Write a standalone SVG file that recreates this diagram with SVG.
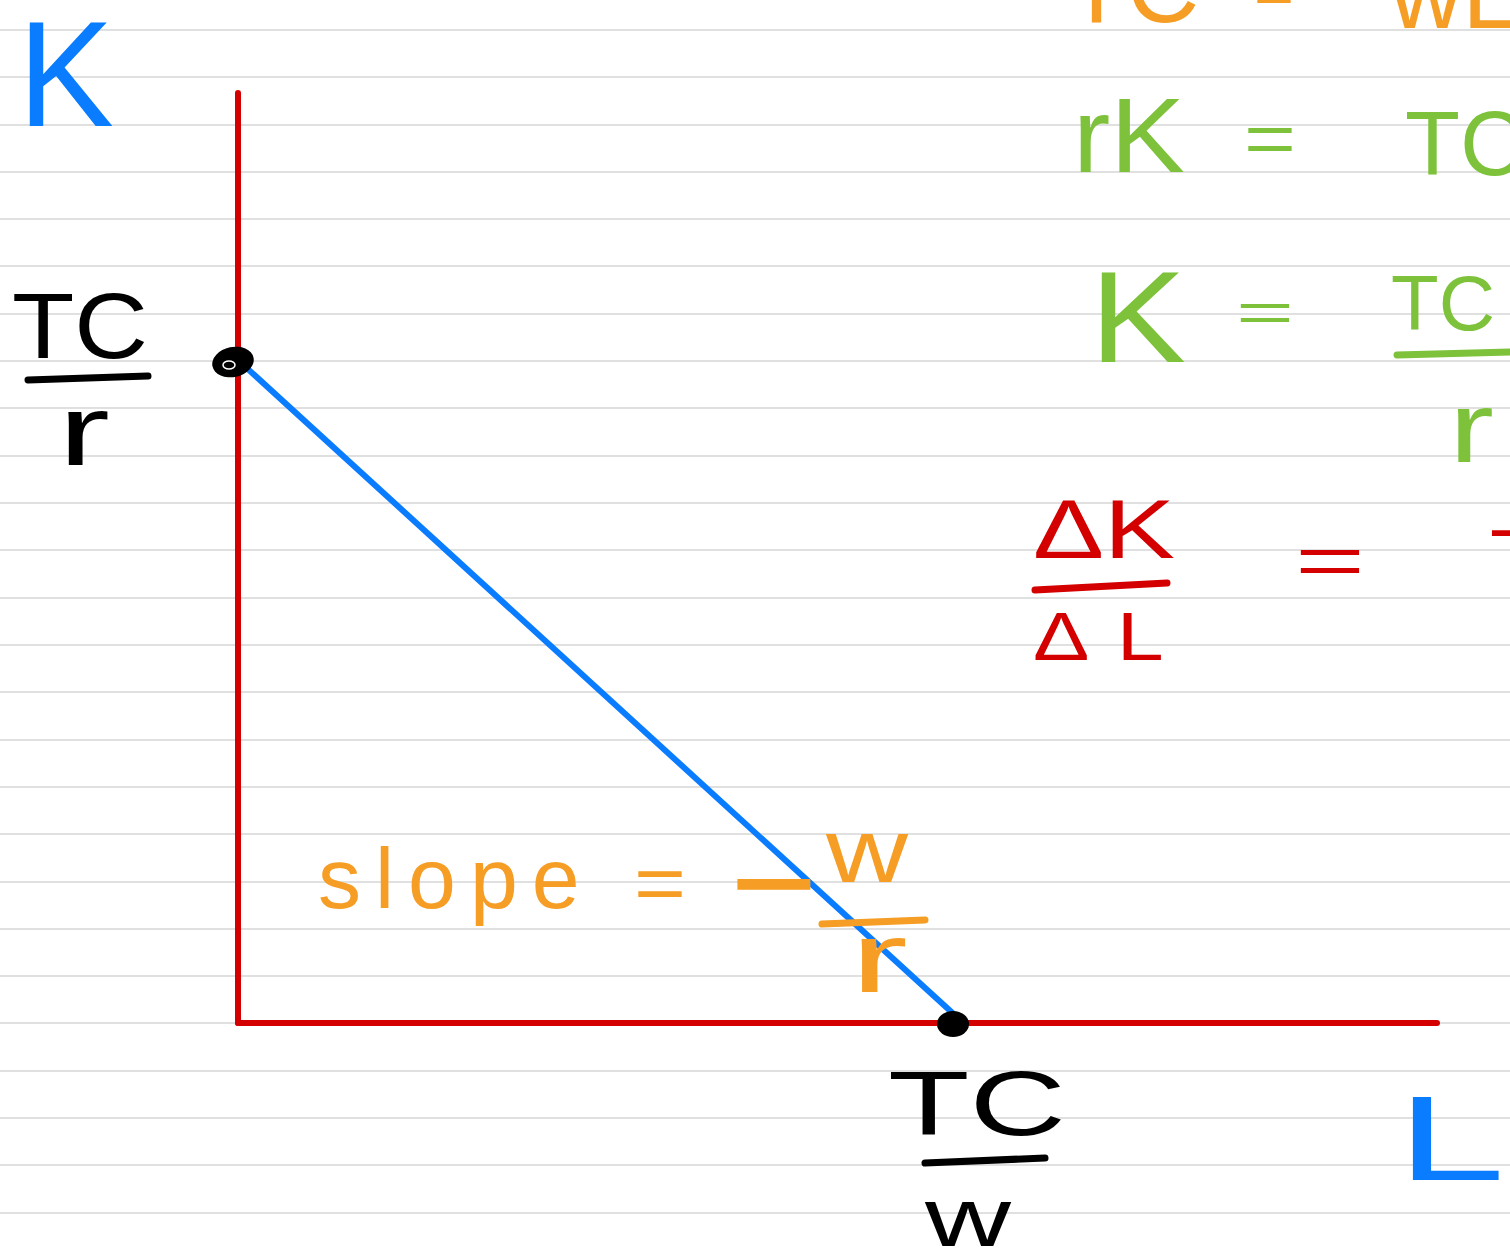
<svg xmlns="http://www.w3.org/2000/svg" width="1510" height="1253" viewBox="0 0 1510 1253">
<style>
.rule{stroke:#d6d6d6;stroke-width:1.5}
text{font-family:"Liberation Sans",Arial,sans-serif}
.blk{fill:#000}
.blu{fill:#0a7cff}
.grn{fill:#7dc23a}
.red{fill:#d40000}
.org{fill:#f59d25}
.bar{stroke-width:7;stroke-linecap:round;fill:none}
</style>
<rect width="1510" height="1253" fill="#fff"/>
<g id="paper-lines">
<line class="rule" x1="0" y1="30" x2="1510" y2="30"/>
<line class="rule" x1="0" y1="77" x2="1510" y2="77"/>
<line class="rule" x1="0" y1="125" x2="1510" y2="125"/>
<line class="rule" x1="0" y1="172" x2="1510" y2="172"/>
<line class="rule" x1="0" y1="219" x2="1510" y2="219"/>
<line class="rule" x1="0" y1="266" x2="1510" y2="266"/>
<line class="rule" x1="0" y1="314" x2="1510" y2="314"/>
<line class="rule" x1="0" y1="361" x2="1510" y2="361"/>
<line class="rule" x1="0" y1="408" x2="1510" y2="408"/>
<line class="rule" x1="0" y1="456" x2="1510" y2="456"/>
<line class="rule" x1="0" y1="503" x2="1510" y2="503"/>
<line class="rule" x1="0" y1="550" x2="1510" y2="550"/>
<line class="rule" x1="0" y1="598" x2="1510" y2="598"/>
<line class="rule" x1="0" y1="645" x2="1510" y2="645"/>
<line class="rule" x1="0" y1="692" x2="1510" y2="692"/>
<line class="rule" x1="0" y1="740" x2="1510" y2="740"/>
<line class="rule" x1="0" y1="787" x2="1510" y2="787"/>
<line class="rule" x1="0" y1="834" x2="1510" y2="834"/>
<line class="rule" x1="0" y1="882" x2="1510" y2="882"/>
<line class="rule" x1="0" y1="929" x2="1510" y2="929"/>
<line class="rule" x1="0" y1="976" x2="1510" y2="976"/>
<line class="rule" x1="0" y1="1023" x2="1510" y2="1023"/>
<line class="rule" x1="0" y1="1071" x2="1510" y2="1071"/>
<line class="rule" x1="0" y1="1118" x2="1510" y2="1118"/>
<line class="rule" x1="0" y1="1165" x2="1510" y2="1165"/>
<line class="rule" x1="0" y1="1213" x2="1510" y2="1213"/>
</g>
<g id="axes">
<line x1="238" y1="93" x2="238" y2="1023" stroke="#d40000" stroke-width="6" stroke-linecap="round"/>
<line x1="238" y1="1023" x2="1437" y2="1023" stroke="#d40000" stroke-width="6" stroke-linecap="round"/>
</g>
<g id="connectors">
<line id="budget-line" x1="238" y1="360" x2="958" y2="1018" stroke="#0a7cff" stroke-width="6" stroke-linecap="round"/>
</g>
<g id="point-k">
<ellipse cx="233" cy="362" rx="21" ry="15" fill="#000" transform="rotate(-12 233 362)"/>
<ellipse cx="229" cy="365" rx="6" ry="4" fill="none" stroke="#fff" stroke-width="1.5"/>
</g>
<g id="point-l">
<ellipse cx="953" cy="1024" rx="16" ry="13" fill="#000"/>
</g>
<g id="label-k-axis"><text class="blu" x="18" y="126" font-size="150" textLength="96" lengthAdjust="spacingAndGlyphs">K</text></g>
<g id="label-l-axis"><text class="blu" x="1397" y="1180" font-size="120" textLength="108" lengthAdjust="spacingAndGlyphs">L</text></g>
<g id="label-tc-r">
<text class="blk" x="12" y="358" font-size="92" textLength="136" lengthAdjust="spacingAndGlyphs">TC</text>
<line class="bar" stroke="#000" x1="28" y1="380" x2="148" y2="376"/>
<text class="blk" x="58" y="465" font-size="100" textLength="52" lengthAdjust="spacingAndGlyphs">r</text>
</g>
<g id="label-tc-w">
<text class="blk" x="888" y="1135" font-size="90" textLength="178" lengthAdjust="spacingAndGlyphs">TC</text>
<line class="bar" stroke="#000" x1="925" y1="1163" x2="1045" y2="1158"/>
<text class="blk" x="925" y="1246" font-size="84" textLength="86" lengthAdjust="spacingAndGlyphs">w</text>
</g>
<g id="label-slope">
<text class="org" x="318" y="908" font-size="86" letter-spacing="14">slope</text>
<text class="org" x="634" y="910" font-size="80" textLength="52" lengthAdjust="spacingAndGlyphs">=</text>
<text class="org" x="774" y="934" font-size="150" text-anchor="middle">−</text>
<text class="org" x="826" y="882" font-size="90" textLength="82" lengthAdjust="spacingAndGlyphs">w</text>
<line class="bar" stroke="#f59d25" x1="822" y1="924" x2="925" y2="920"/>
<text class="org" x="850" y="992" font-size="100" textLength="58" lengthAdjust="spacingAndGlyphs">r</text>
</g>
<g id="eq-tc">
<text class="org" x="1066" y="22" font-size="100">TC</text>
<text class="org" x="1254" y="15" font-size="70" textLength="40" lengthAdjust="spacingAndGlyphs">=</text>
<text class="org" x="1390" y="28" font-size="100">wL</text>
</g>
<g id="eq-rk">
<text class="grn" x="1073" y="172" font-size="105" textLength="112" lengthAdjust="spacingAndGlyphs">rK</text>
<text class="grn" x="1244" y="163" font-size="70" textLength="52" lengthAdjust="spacingAndGlyphs">=</text>
<text class="grn" x="1405" y="175" font-size="90">TC</text>
</g>
<g id="eq-k">
<text class="grn" x="1090" y="362" font-size="130" textLength="96" lengthAdjust="spacingAndGlyphs">K</text>
<text class="grn" x="1236" y="331" font-size="56" textLength="58" lengthAdjust="spacingAndGlyphs">=</text>
<text class="grn" x="1391" y="330" font-size="78">TC</text>
<line class="bar" stroke="#7dc23a" x1="1397" y1="355" x2="1512" y2="352"/>
<text class="grn" x="1449" y="462" font-size="100" textLength="45" lengthAdjust="spacingAndGlyphs">r</text>
</g>
<g id="eq-slope">
<text class="red" x="1033" y="558" font-size="84" textLength="142" lengthAdjust="spacingAndGlyphs">ΔK</text>
<line class="bar" stroke="#d40000" x1="1035" y1="590" x2="1167" y2="583"/>
<text class="red" x="1033" y="660" font-size="68" letter-spacing="22" textLength="158" lengthAdjust="spacingAndGlyphs">ΔL</text>
<text class="red" x="1295" y="585" font-size="70" textLength="70" lengthAdjust="spacingAndGlyphs">=</text>
<text class="red" x="1488" y="560" font-size="80">−</text>
</g>
</svg>
